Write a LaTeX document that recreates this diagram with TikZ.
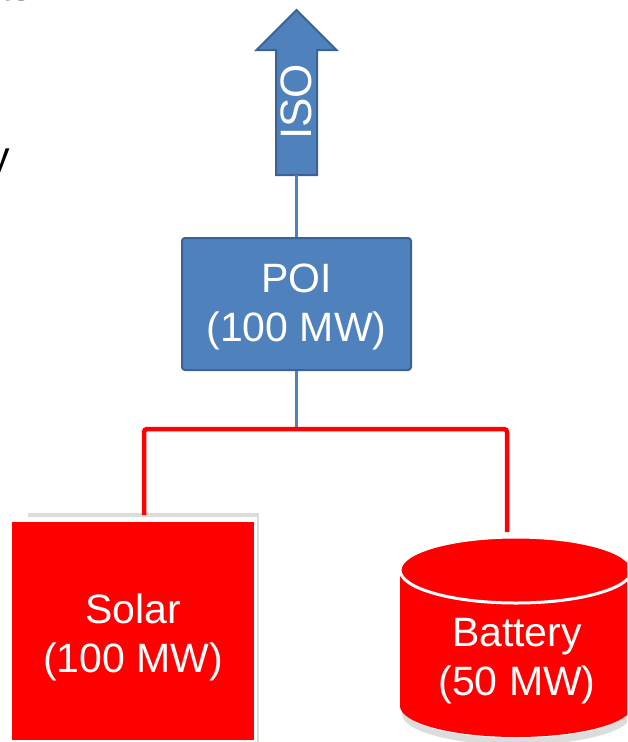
\documentclass[tikz,border=0pt]{standalone}
\usepackage{fontspec}
\setmainfont{Liberation Sans}
\definecolor{officeblue}{HTML}{4F81BD}
\definecolor{blueedge}{HTML}{3A6296}
\definecolor{shadowgray}{HTML}{DCDCDC}
\newcommand\mybigfont{\fontsize{41}{49}\selectfont}
\tikzset{
  bluebox/.style={rectangle, fill=officeblue, draw=blueedge, line width=2pt, rounded corners=3pt, minimum width=229pt, minimum height=132pt, inner sep=0pt},
  redbox/.style={rectangle, fill=red, draw=none, minimum width=242pt, minimum height=218pt, inner sep=0pt},
  whitetext/.style={text=white, font=\mybigfont, align=center, inner sep=0pt},
  blacktext/.style={text=black, font=\mybigfont, inner sep=0pt},
  blueline/.style={draw=officeblue, line width=3pt},
  redline/.style={draw=red, line width=4.5pt, rounded corners=3pt},
}
\begin{document}
\begin{tikzpicture}[x=1pt, y=-1pt]
\useasboundingbox (0,0) rectangle (627,742);
\clip (0,0) rectangle (627,742);
\fill[white] (0,0) rectangle (627,742);

% cut-off text fragments at the left edge
\node[blacktext, anchor=base west] (frag1) at (0,0) {ts};
\node[blacktext, anchor=base west] (frag2) at (-11,170) {y};

% ISO arrow
\draw[fill=officeblue, draw=blueedge, line width=2pt, line join=miter]
  (276,175) -- (276,50) -- (256.5,50) -- (296.5,10) -- (336.5,50) -- (317,50) -- (317,175) -- cycle;
\coordinate (isobase) at (296.5,175);
\node[text=white, font=\fontsize{44}{50}\selectfont, inner sep=0pt, rotate=90] (iso) at (296.5,102) {ISO};

% POI box
\node[bluebox] (poi) at (296.5,304) {};
\node[whitetext] (poitext) at (296.5,307) {POI\\(100 MW)};

% Solar box with its shadow
\fill[shadowgray] (28,513) rectangle (259,745);
\fill[white] (12,517) rectangle (257,745);
\node[redbox] (solar) at (133,631) {};
\node[whitetext] (solartext) at (133,637) {Solar\\(100 MW)};
\coordinate (soltop) at (144,515);

% Battery cylinder
\fill[shadowgray] (402,714) arc[start angle=180, end angle=0, x radius=115, y radius=31] -- (630,708) arc[start angle=0, end angle=180, x radius=114, y radius=30] -- cycle;
\fill[red] (400,570) -- (400,706) arc[start angle=180, end angle=0, x radius=116, y radius=31] -- (632,570) -- cycle;
\draw[fill=red, draw=white, line width=3pt] (516,570) ellipse [x radius=116, y radius=33];
\coordinate (battop) at (507,532);
\node[whitetext] (batterytext) at (517,661) {Battery\\(50 MW)};

% connectors
\coordinate (junc) at (296.5,429);
\draw[blueline] (isobase) -- (poi.north);
\draw[blueline] (poi.south) -- (junc);
\draw[redline] (soltop) |- (junc) -| (battop);
\end{tikzpicture}
\end{document}
